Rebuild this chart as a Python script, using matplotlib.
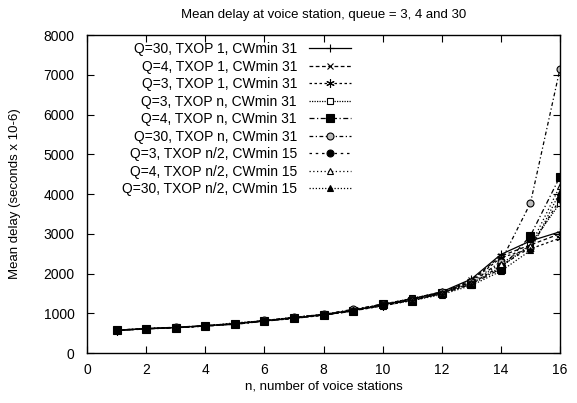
import matplotlib
matplotlib.use("Agg")
import matplotlib.pyplot as plt

plt.rcParams['font.family'] = ['Liberation Sans', 'DejaVu Sans']

n_stations = list(range(1, 17))

q30_txop1_cw31 = [570, 610, 640, 685, 735, 810, 880, 960, 1075, 1210, 1360, 1540, 1860, 2480, 2820, 3050]
q4_txop1_cw31 = [570, 610, 640, 680, 730, 805, 875, 955, 1065, 1195, 1340, 1520, 1830, 2440, 2720, 3000]
q3_txop1_cw31 = [565, 605, 635, 675, 725, 800, 870, 950, 1060, 1185, 1325, 1500, 1800, 2400, 2620, 2890]
q3_txopn_cw31 = [575, 615, 645, 690, 740, 815, 890, 970, 1080, 1220, 1380, 1520, 1750, 2160, 2730, 3770]
q4_txopn_cw31 = [575, 615, 640, 685, 720, 805, 885, 960, 1050, 1240, 1320, 1500, 1730, 2120, 2950, 4440]
q30_txopn_cw31 = [580, 615, 650, 690, 740, 820, 895, 975, 1100, 1230, 1370, 1540, 1780, 2300, 3770, 7150]
q3_txopn2_cw15 = [570, 610, 640, 680, 735, 810, 880, 960, 1065, 1200, 1340, 1490, 1740, 2200, 2650, 3870]
q4_txopn2_cw15 = [575, 615, 645, 690, 745, 815, 900, 975, 1085, 1215, 1365, 1510, 1760, 2250, 2700, 4200]
q30_txopn2_cw15 = [570, 610, 640, 680, 760, 810, 900, 965, 1070, 1190, 1320, 1470, 1700, 2060, 2580, 4050]

series = [
    ("Q=30, TXOP 1, CWmin 31", q30_txop1_cw31, dict(ls='-', marker='+', ms=6, mfc='black')),
    ("Q=4, TXOP 1, CWmin 31", q4_txop1_cw31, dict(ls=(0, (3, 2)), marker='x', ms=5, mfc='black')),
    ("Q=3, TXOP 1, CWmin 31", q3_txop1_cw31, dict(ls=(0, (2, 2)), marker=(6, 2, 0), ms=6, mfc='black')),
    ("Q=3, TXOP n, CWmin 31", q3_txopn_cw31, dict(ls=(0, (1, 1)), marker='s', ms=5, mfc='white')),
    ("Q=4, TXOP n, CWmin 31", q4_txopn_cw31, dict(ls=(0, (4, 2, 1, 2)), marker='s', ms=6, mfc='black')),
    ("Q=30, TXOP n, CWmin 31", q30_txopn_cw31, dict(ls=(0, (3, 2, 1, 2)), marker='o', ms=5, mfc='#bbbbbb')),
    ("Q=3, TXOP n/2, CWmin 15", q3_txopn2_cw15, dict(ls=(0, (2, 3)), marker='o', ms=5, mfc='black')),
    ("Q=4, TXOP n/2, CWmin 15", q4_txopn2_cw15, dict(ls=(0, (1, 2)), marker='^', ms=5, mfc='white')),
    ("Q=30, TXOP n/2, CWmin 15", q30_txopn2_cw15, dict(ls=(0, (1, 1.5)), marker='^', ms=4, mfc='black')),
]

fig = plt.figure(figsize=(5.77, 4.03), dpi=100)
ax = fig.add_axes([0.151, 0.124, 0.8195, 0.789])

for label, values, style in series:
    ax.plot(n_stations, values, color='black', lw=0.9, mec='black', mew=0.8,
            label=label, **style)

ax.set_xlim(0, 16)
ax.set_ylim(0, 8000)
ax.set_xticks(range(0, 17, 2))
ax.set_yticks(range(0, 8001, 1000))
ax.tick_params(direction='in', top=True, right=True, length=5, width=0.8,
               labelsize=10)
ax.tick_params(axis='y', pad=9)
ax.tick_params(axis='x', pad=7)
for sp in ax.spines.values():
    sp.set_linewidth(1.0)

ax.set_title("Mean delay at voice station, queue = 3, 4 and 30", fontsize=9.5, pad=12)
ax.set_xlabel("n, number of voice stations", fontsize=9.5, labelpad=3)
ax.set_ylabel("Mean delay (seconds x 10-6)", fontsize=9.5, labelpad=16)

ax.legend(loc='upper left', bbox_to_anchor=(0.062, 0.995), markerfirst=False,
          frameon=False, fontsize=10, handlelength=3.0, handletextpad=0.9,
          labelspacing=0.25, borderaxespad=0.0)

fig.savefig("out.png", dpi=100)
